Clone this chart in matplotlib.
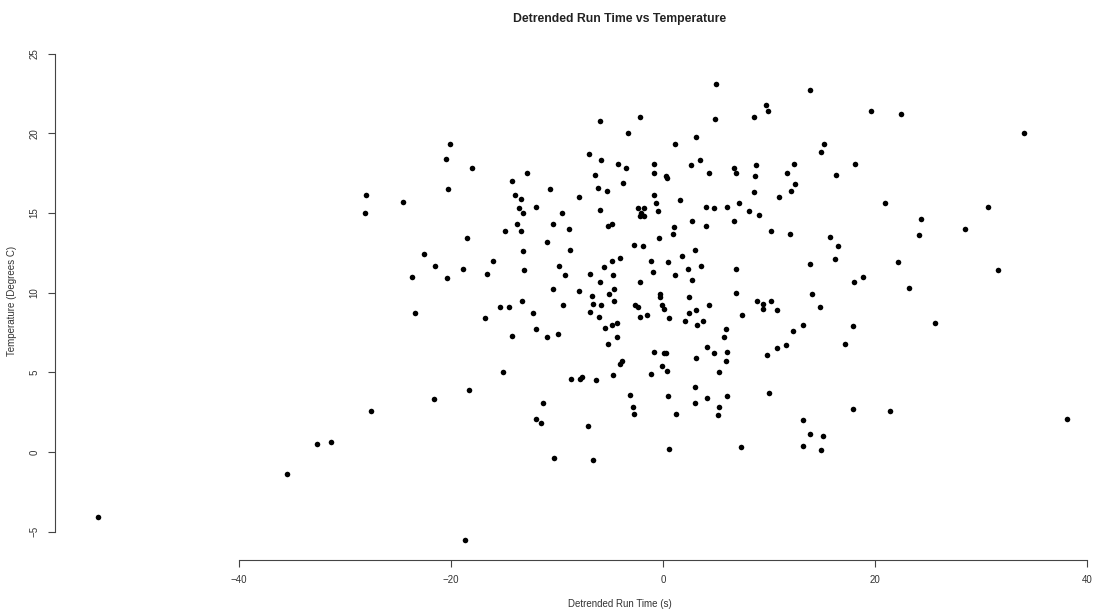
import numpy as np
import matplotlib.pyplot as plt

plt.rcParams['font.family'] = ['Liberation Sans', 'DejaVu Sans']

# detrended run time (s)
run_time = [
    -20.1, -20.5, -18.0, -12.8, -14.2, -20.3, -28.0, -24.5, -14.0, -13.4, -13.6,
    5.0, 4.9, -5.9, -2.2, -3.3, 3.1, 1.1, -7.0, -5.8, -4.2, -3.5, -0.8, 3.5, 2.6,
    -0.8, 0.3, 0.4, 4.3, -6.4, -3.8, -10.7, -6.1, -5.3, -7.9, -0.8, -0.7, 1.6,
    -12.0, -2.4, -1.8, 4.1, 4.8, -5.9,
    13.9, 9.7, 9.9, 8.6, 19.6, 22.5, 15.2, 14.9, 12.4, 18.1, 8.8, 6.7, 6.9, 8.7,
    11.7, 16.3, 12.5, 12.1, 8.6, 10.9, 6.0, 7.2, 20.9,
    -28.1, -13.2, -13.8, -14.9, -13.4, -18.5, -13.2, -22.5, -16.0, -21.5, -18.9,
    -13.1, -16.6, -23.7, -20.4, -13.3, -15.4, -14.5, -23.4, -16.8, -14.2,
    -9.5, -2.1, -1.8, -2.2, -0.5, -10.4, -8.9, -5.2, -4.8, 1.0, 0.9, 2.7, 4.1,
    -0.4, -10.9, -2.7, -1.9, -8.8, 3.0, -4.1, -4.8, -1.1, 0.5, 1.8, 3.6, -9.8,
    -5.6, 2.4, -0.9, -9.2, -6.9, -4.7, 1.1, -5.9, -2.2, 2.7, -10.4, -7.9, -4.6,
    -5.1, -6.7, -0.3, -0.3, 2.5, -4.6, -9.4, -6.6, -5.8, -2.6, -2.4, -0.1, 0.1,
    4.3, -12.3, -6.9, -6.0, -2.2, -1.5, 0.6, 3.1, 2.5, 2.1, 3.2, 3.8, -4.3, -4.8,
    -5.5, -12.0, -10.9, -9.9, -4.3,
    8.1, 9.1, 6.7, 10.2, 12.0, 15.8, 16.5, 16.2, 13.9, 22.2, 6.9, 18.9, 18.0,
    23.2, 6.9, 14.1, 8.9, 10.2, 9.4, 9.4, 10.8, 14.8, 7.5, 13.2, 12.3, 17.9,
    5.9, 5.8,
    -15.1, -18.3, -21.6, -27.5,
    -32.6, -31.3, -35.5, -53.3,
    -5.2, -0.8, 0.1, 0.3, -0.1, 0.4, -1.1, -3.9, -4.1, -4.7, -6.3, -8.7, -7.8,
    -7.6, 4.2, 4.8, 3.1, 5.3, -3.1, 0.5, 3.0, 3.0, 4.2, -11.3, -2.8, -2.7, 1.2,
    5.3, 5.2, -12.0, -11.5, -7.1, 0.6, -10.3, -6.6,
    17.2, 11.6, 10.8, 9.8, 6.0, 5.9, 10.0, 6.0, 17.9, 21.4, 13.2, 13.9, 15.1,
    13.2, 14.9, 7.4,
    34.1, 30.7, 24.3, 28.5, 24.2, 31.6, 25.7, 38.1,
    -18.7,
]

# temperature (degrees C)
temperature = [
    19.3, 18.4, 17.8, 17.5, 17.0, 16.5, 16.1, 15.7, 16.1, 15.9, 15.3,
    23.1, 20.9, 20.8, 21.0, 20.0, 19.8, 19.3, 18.7, 18.3, 18.1, 17.8, 18.1, 18.3,
    18.0, 17.5, 17.3, 17.2, 17.5, 17.4, 16.9, 16.5, 16.6, 16.4, 16.0, 16.1, 15.6,
    15.8, 15.4, 15.3, 15.3, 15.4, 15.3, 15.2,
    22.7, 21.8, 21.4, 21.0, 21.4, 21.2, 19.3, 18.8, 18.1, 18.1, 18.0, 17.8, 17.5,
    17.3, 17.5, 17.4, 16.8, 16.4, 16.3, 16.0, 15.4, 15.6, 15.6,
    15.0, 15.0, 14.3, 13.9, 13.9, 13.4, 12.6, 12.4, 12.0, 11.7, 11.5, 11.4, 11.2,
    11.0, 10.9, 9.5, 9.1, 9.1, 8.7, 8.4, 7.3,
    15.0, 15.0, 14.8, 14.8, 15.1, 14.3, 14.0, 14.2, 14.3, 14.1, 13.7, 14.5, 14.2,
    13.4, 13.2, 13.0, 12.9, 12.7, 12.7, 12.2, 12.0, 12.0, 11.9, 12.3, 11.7, 11.7,
    11.6, 11.5, 11.3, 11.1, 11.2, 11.1, 11.1, 10.7, 10.7, 10.8, 10.2, 10.1, 10.2,
    9.9, 9.8, 9.9, 9.7, 9.7, 9.5, 9.2, 9.3, 9.2, 9.2, 9.1, 9.2, 9.0,
    9.2, 8.7, 8.8, 8.5, 8.5, 8.6, 8.4, 8.9, 8.7, 8.2, 8.0, 8.2, 8.1, 8.0,
    7.8, 7.7, 7.2, 7.4, 7.2,
    15.1, 14.9, 14.5, 13.9, 13.7, 13.5, 12.9, 12.1, 11.8, 11.9, 11.5, 11.0, 10.7,
    10.3, 10.0, 9.9, 9.5, 9.5, 9.3, 9.0, 8.9, 9.1, 8.6, 8.0, 7.6, 7.9,
    7.7, 7.2,
    5.0, 3.9, 3.3, 2.6,
    0.5, 0.6, -1.4, -4.1,
    6.8, 6.3, 6.2, 6.2, 5.4, 5.1, 4.9, 5.7, 5.5, 4.8, 4.5, 4.6, 4.6,
    4.7, 6.6, 6.2, 5.9, 5.0, 3.6, 3.5, 4.1, 3.1, 3.4, 3.1, 2.8, 2.4, 2.4,
    2.8, 2.3, 2.1, 1.8, 1.6, 0.2, -0.4, -0.5,
    6.8, 6.7, 6.5, 6.1, 6.3, 5.7, 3.7, 3.5, 2.7, 2.6, 2.0, 1.1, 1.0,
    0.4, 0.1, 0.3,
    20.0, 15.4, 14.6, 14.0, 13.6, 11.4, 8.1, 2.1,
    -5.5,
]

x_ticks = [-40, -20, 0, 20, 40]
y_ticks = [-5, 0, 5, 10, 15, 20, 25]

fig = plt.figure(figsize=(10.95, 6.13), dpi=100)
# plot region runs a little past the right edge of the saved image
ax = fig.add_axes([0.0502, 0.0865, 1.032, 0.8467])

ax.plot(run_time, temperature, 'o', color='black', markersize=4.0, markeredgewidth=0)

ax.set_xlim(-57.36, 49.25)
ax.set_ylim(-6.78, 25.8)

# base-R style axes: no box, axis lines only span the tick range
for side in ['top', 'right']:
    ax.spines[side].set_visible(False)
ax.spines['bottom'].set_bounds(x_ticks[0], x_ticks[-1])
ax.spines['left'].set_bounds(y_ticks[0], y_ticks[-1])
for side in ['bottom', 'left']:
    ax.spines[side].set_color('#444444')
    ax.spines[side].set_linewidth(0.8)

ax.set_xticks(x_ticks)
ax.set_yticks(y_ticks)
ax.tick_params(length=5, width=0.8, color='#444444', labelsize=7, labelcolor='#333333', pad=6)
plt.setp(ax.get_yticklabels(), rotation=90, va='center')

ax.set_xlabel('Detrended Run Time (s)', fontsize=7, color='#333333', labelpad=10)
ax.set_ylabel('Temperature (Degrees C)', fontsize=7, color='#333333', labelpad=9)
ax.set_title('Detrended Run Time vs Temperature', fontsize=8.8, fontweight='bold',
             color='#222222', pad=14)

fig.savefig('out.png', dpi=100)
